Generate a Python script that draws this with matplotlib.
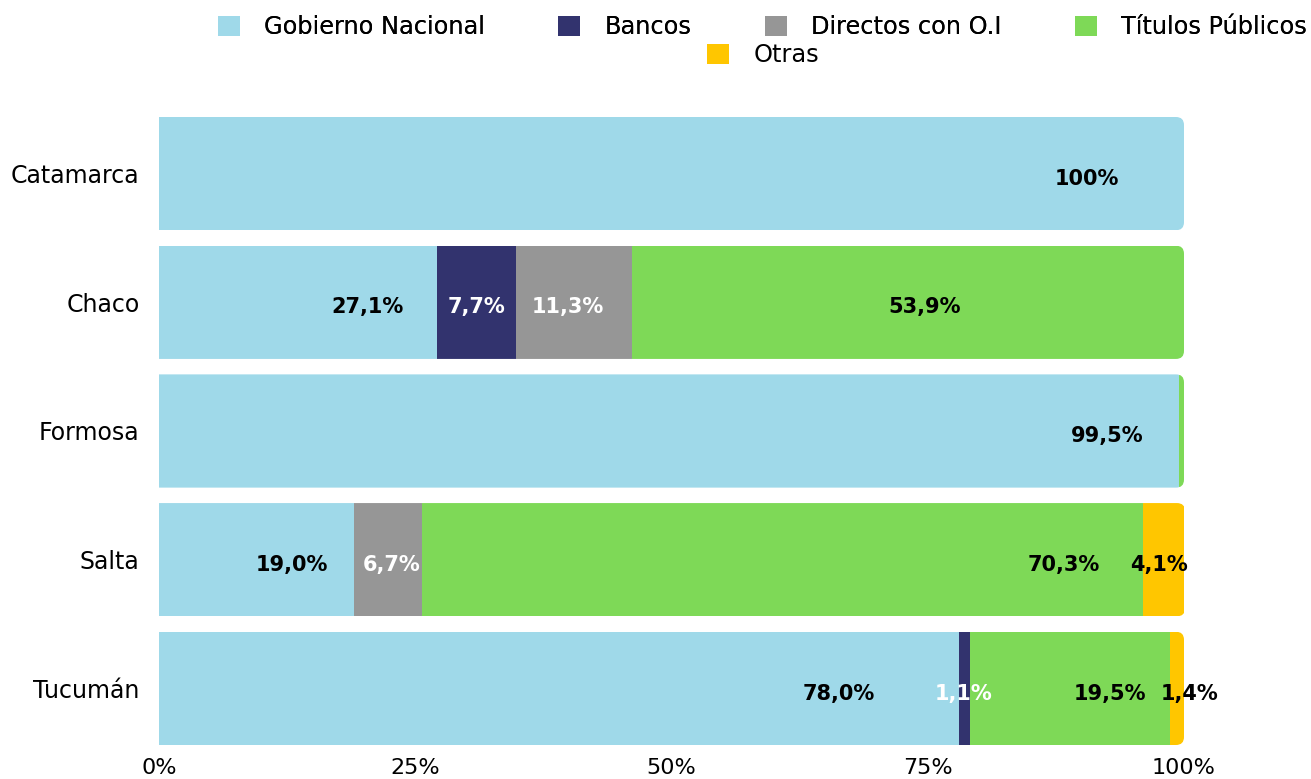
import matplotlib
matplotlib.use("Agg")
import matplotlib.pyplot as plt
from matplotlib.patches import FancyBboxPatch, Patch
from matplotlib.transforms import IdentityTransform
import numpy as np

provinces = ["Catamarca", "Chaco", "Formosa", "Salta", "Tucumán"]
series_names = ["Gobierno Nacional", "Bancos", "Directos con O.I", "Títulos Públicos", "Otras"]
gobierno = [100.0, 27.1, 99.5, 19.0, 78.0]
bancos = [0.0, 7.7, 0.0, 0.0, 1.1]
directos = [0.0, 11.3, 0.0, 6.7, 0.0]
titulos = [0.0, 53.9, 0.5, 70.3, 19.5]
otras = [0.0, 0.0, 0.0, 4.1, 1.4]
xtick_vals = [0, 25, 50, 75, 100]
xtick_labels = ["0%", "25%", "50%", "75%", "100%"]
label_texts = {
    (0, 0): "100%", (0, 1): "27,1%", (0, 2): "99,5%", (0, 3): "19,0%", (0, 4): "78,0%",
    (1, 1): "7,7%", (1, 4): "1,1%",
    (2, 1): "11,3%", (2, 3): "6,7%",
    (3, 1): "53,9%", (3, 3): "70,3%", (3, 4): "19,5%",
    (4, 3): "4,1%", (4, 4): "1,4%",
}

# style
colors = ["#9fd9e9", "#32336e", "#969696", "#7ed957", "#ffc600"]
label_colors = ["black", "white", "white", "black", "black"]
label_colors_override = {(1, 4): "white"}
label_frac = {
    (0, 0): 0.905, (0, 1): 0.75, (0, 2): 0.93, (0, 3): 0.68, (0, 4): 0.85,
    (1, 1): 0.5, (1, 4): 0.45,
    (2, 1): 0.45, (2, 3): 0.55,
    (3, 1): 0.53, (3, 3): 0.89, (3, 4): 0.70,
    (4, 3): 0.39, (4, 4): 1.4,
}

W, H, DPI = 1311, 779, 100
fig = plt.figure(figsize=(W / DPI, H / DPI), dpi=DPI)
ax = fig.add_axes([159 / W, 1 - 745 / H, (1184 - 159) / W, (745 - 117) / H])

data = [gobierno, bancos, directos, titulos, otras]
y = np.arange(len(provinces))
bar_h = 0.88
ax.set_xlim(0, 100)
ax.set_ylim(len(provinces) - 1 + bar_h / 2, -bar_h / 2)

left = np.zeros(len(provinces))
all_bars = []
for si, vals in enumerate(data):
    vals = np.array(vals)
    bars = ax.barh(y, vals, left=left, height=bar_h, color=colors[si], edgecolor="none", linewidth=0)
    all_bars.append(bars)
    for ri in range(len(provinces)):
        key = (si, ri)
        if key in label_texts:
            xc = left[ri] + label_frac[key] * vals[ri]
            col = label_colors_override.get(key, label_colors[si])
            ax.text(xc, y[ri] + 0.04, label_texts[key], ha="center", va="center",
                    fontsize=15, fontweight="bold", color=col, family="DejaVu Sans")
    left = left + vals

# rounded right ends via clip paths in display coords
for ri in range(len(provinces)):
    total = left[ri]
    (x0, y0) = ax.transData.transform((0, y[ri] + bar_h / 2))
    (x1, y1) = ax.transData.transform((total, y[ri] - bar_h / 2))
    clip = FancyBboxPatch((x0 - 30, y0), (x1 - x0) + 30, (y1 - y0),
                          boxstyle="round,pad=0,rounding_size=8",
                          transform=IdentityTransform(), facecolor="none", edgecolor="none")
    for bars in all_bars:
        bars[ri].set_clip_path(clip)

ax.set_yticks(y)
ax.set_yticklabels(provinces, fontsize=17)
ax.set_xticks(xtick_vals)
ax.set_xticklabels(xtick_labels, fontsize=16)
ax.tick_params(axis="y", length=0, pad=14)
ax.tick_params(axis="x", length=0, pad=9)
for s in ax.spines.values():
    s.set_visible(False)

handles = [Patch(facecolor=c, edgecolor="none") for c in colors]
leg1 = fig.legend(handles[:4], series_names[:4], loc="center left",
                  bbox_to_anchor=(218 / W, 1 - 27 / H), ncol=4, frameon=False,
                  fontsize=17.3, handlelength=0.92, handleheight=0.92,
                  handletextpad=1.0, columnspacing=3.05, borderpad=0, borderaxespad=0)
leg2 = fig.legend(handles[4:], series_names[4:], loc="center left",
                  bbox_to_anchor=(707 / W, 1 - 55 / H), ncol=1, frameon=False,
                  fontsize=17.3, handlelength=0.92, handleheight=0.92,
                  handletextpad=1.0, borderpad=0, borderaxespad=0)
fig.add_artist(leg1)

fig.savefig("out.png", dpi=DPI)
